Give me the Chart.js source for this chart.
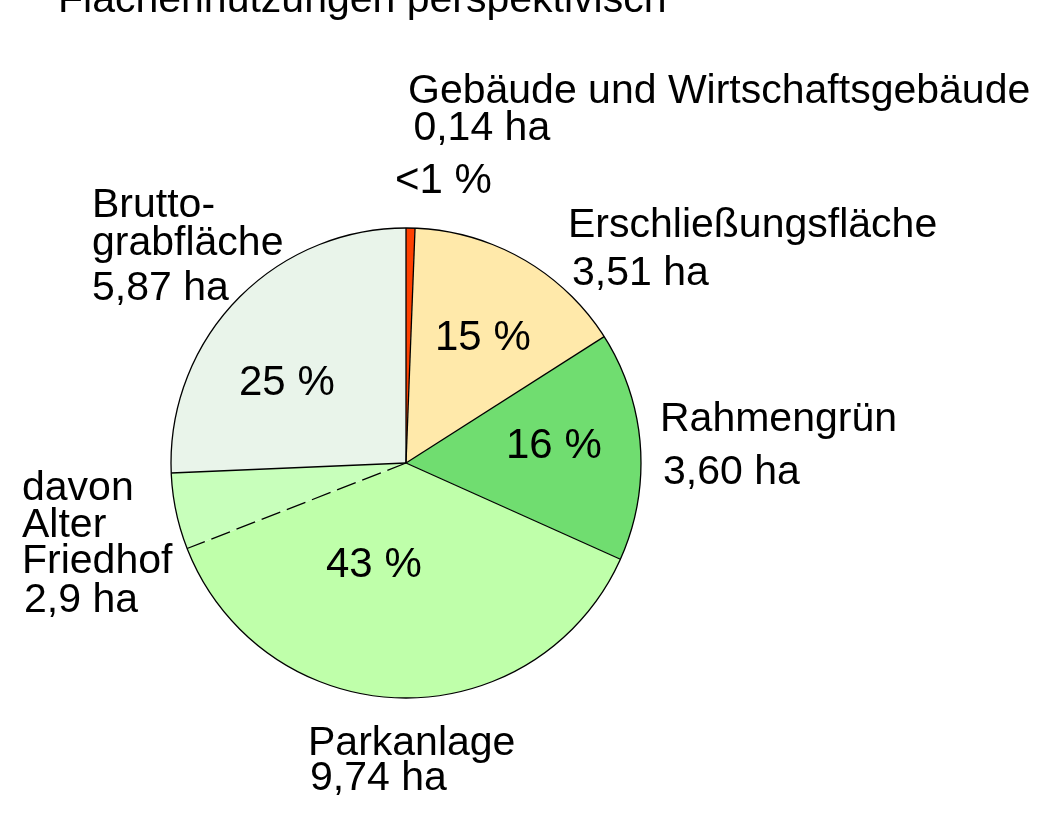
<!DOCTYPE html>
<html>
<head>
<meta charset="utf-8">
<script src="https://cdn.jsdelivr.net/npm/chart.js@4"></script>
<style>
  html, body { margin: 0; padding: 0; background: #fff; }
  #wrap { width: 1044px; height: 824px; position: relative; }
</style>
</head>
<body>
<div id="wrap"><canvas id="pie" width="1044" height="824"></canvas></div>
<script>
// Flächen in ha, im Uhrzeigersinn ab 12 Uhr
const categories = ['Gebäude und Wirtschaftsgebäude', 'Erschließungsfläche', 'Rahmengrün', 'Parkanlage', 'Bruttograbfläche'];
const hectares = [0.14, 3.51, 3.60, 9.74, 5.87];
const percentLabels = ['<1 %', '15 %', '16 %', '43 %', '25 %'];
const sliceColors = ['#ff4000', '#ffe9aa', '#70dd70', '#bfffaa', '#e9f4ea'];

// Teil der Parkanlage, der als Alter Friedhof abgesetzt wird (gestrichelte Linie)
const friedhofInPark = 1.2;
const friedhofColor = '#c8ffbb';

const title = 'Flächennutzungen perspektivisch';
const FONT = '41px "Liberation Sans", Arial, sans-serif';
const PCT_FONT = '42px "Liberation Sans", Arial, sans-serif';

// Datensatz: Parkanlage wird in zwei Segmente geteilt
const values = [
  hectares[0], hectares[1], hectares[2],
  hectares[3] - friedhofInPark, friedhofInPark,
  hectares[4]
];
const colors = [
  sliceColors[0], sliceColors[1], sliceColors[2],
  sliceColors[3], friedhofColor,
  sliceColors[4]
];
const labels = [categories[0], categories[1], categories[2], categories[3], 'davon Alter Friedhof', categories[4]];
const DASHED_INDEX = 4;

const fmt = v => v.toFixed(2).replace('.', ',') + ' ha';

// Beschriftungen: [Text, x, Grundlinie]
const texts = [
  [title, 58, 12],
  [categories[0], 408, 103],
  [' ' + fmt(hectares[0]), 402, 140],
  [categories[1], 568, 237],
  [fmt(hectares[1]), 572, 285],
  ['Brutto-', 92, 217],
  ['grabfläche', 92, 255],
  [fmt(hectares[4]), 92, 300],
  [categories[2], 660, 431],
  [fmt(hectares[2]), 663, 484],
  ['davon', 22, 500],
  ['Alter', 22, 537],
  ['Friedhof', 22, 573],
  ['2,9 ha', 24, 612],
  [categories[3], 308, 755],
  [fmt(hectares[3]), 310, 790]
];

// Prozentangaben: [Index, x, Grundlinie]
const pctPos = [
  [0, 395, 193],
  [1, 435, 350],
  [2, 506, 458],
  [3, 326, 577],
  [4, 239, 395]
];

const outlinePlugin = {
  id: 'outline',
  afterDatasetsDraw(chart) {
    const ctx = chart.ctx;
    const arcs = chart.getDatasetMeta(0).data;
    if (!arcs.length) return;
    const cx = arcs[0].x, cy = arcs[0].y, r = arcs[0].outerRadius;
    ctx.save();
    ctx.strokeStyle = '#000';
    ctx.lineWidth = 1.3;
    ctx.beginPath();
    ctx.arc(cx, cy, r, 0, Math.PI * 2);
    ctx.stroke();
    arcs.forEach((a, i) => {
      ctx.setLineDash(i === DASHED_INDEX ? [20, 7] : []);
      ctx.beginPath();
      ctx.moveTo(cx, cy);
      ctx.lineTo(cx + r * Math.cos(a.startAngle), cy + r * Math.sin(a.startAngle));
      ctx.stroke();
    });
    ctx.restore();
  },
  afterDraw(chart) {
    const ctx = chart.ctx;
    ctx.fillStyle = '#000';
    ctx.textBaseline = 'alphabetic';
    ctx.textAlign = 'left';
    ctx.font = FONT;
    texts.forEach(([t, x, y]) => ctx.fillText(t, x, y));
    ctx.font = PCT_FONT;
    pctPos.forEach(([i, x, y]) => ctx.fillText(percentLabels[i], x, y));
  }
};

new Chart(document.getElementById('pie'), {
  type: 'pie',
  data: {
    labels,
    datasets: [{
      data: values,
      backgroundColor: colors,
      borderWidth: 0
    }]
  },
  options: {
    responsive: false,
    animation: false,
    layout: { padding: { left: 171, right: 403, top: 228, bottom: 126 } },
    plugins: {
      legend: { display: false },
      tooltip: { enabled: false },
      title: { display: false }
    }
  },
  plugins: [outlinePlugin]
});
</script>
</body>
</html>
